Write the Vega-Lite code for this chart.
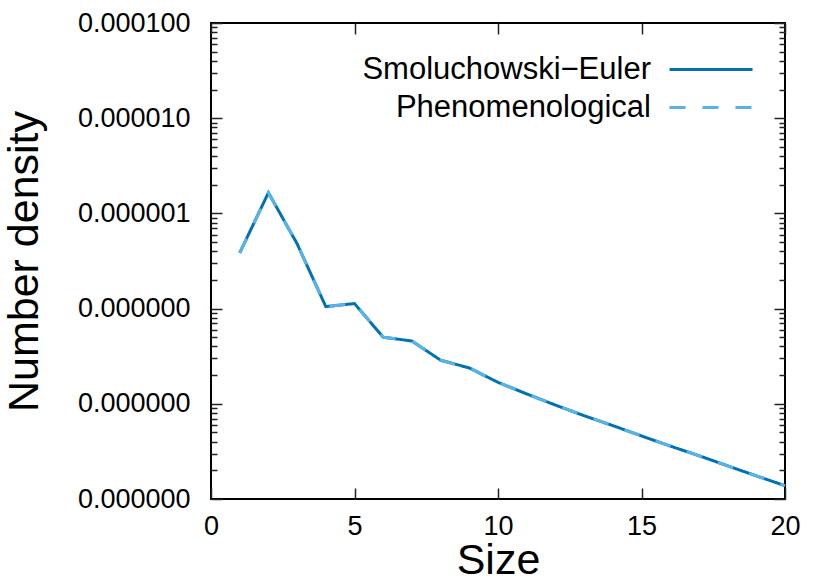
{
  "$schema": "https://vega.github.io/schema/vega-lite/v6.json",
  "autosize": {"type": "none"},
  "padding": {"left": 211, "top": 23, "right": 45, "bottom": 80},
  "width": 574,
  "height": 476,
  "background": "white",
  "config": {
    "view": {"stroke": "black", "strokeWidth": 2},
    "font": "Liberation Sans",
    "axis": {
      "grid": false,
      "domain": false,
      "tickColor": "#222222",
      "tickWidth": 1.5,
      "labelFont": "Liberation Sans",
      "labelFontSize": 27,
      "labelColor": "black",
      "titleFont": "Liberation Sans",
      "titleFontSize": 43,
      "titleFontWeight": "normal",
      "titleColor": "black"
    }
  },
  "data": {
    "values": [
      {"size": 1, "density": 3.84e-7, "model": "Smoluchowski−Euler"},
      {"size": 2, "density": 1.65e-6, "model": "Smoluchowski−Euler"},
      {"size": 3, "density": 4.8e-7, "model": "Smoluchowski−Euler"},
      {"size": 4, "density": 1.05e-7, "model": "Smoluchowski−Euler"},
      {"size": 5, "density": 1.13e-7, "model": "Smoluchowski−Euler"},
      {"size": 6, "density": 5.0e-8, "model": "Smoluchowski−Euler"},
      {"size": 7, "density": 4.57e-8, "model": "Smoluchowski−Euler"},
      {"size": 8, "density": 2.87e-8, "model": "Smoluchowski−Euler"},
      {"size": 9, "density": 2.38e-8, "model": "Smoluchowski−Euler"},
      {"size": 10, "density": 1.68e-8, "model": "Smoluchowski−Euler"},
      {"size": 11, "density": 1.27e-8, "model": "Smoluchowski−Euler"},
      {"size": 12, "density": 9.7e-9, "model": "Smoluchowski−Euler"},
      {"size": 13, "density": 7.5e-9, "model": "Smoluchowski−Euler"},
      {"size": 14, "density": 5.9e-9, "model": "Smoluchowski−Euler"},
      {"size": 15, "density": 4.6e-9, "model": "Smoluchowski−Euler"},
      {"size": 16, "density": 3.6e-9, "model": "Smoluchowski−Euler"},
      {"size": 17, "density": 2.85e-9, "model": "Smoluchowski−Euler"},
      {"size": 18, "density": 2.23e-9, "model": "Smoluchowski−Euler"},
      {"size": 19, "density": 1.75e-9, "model": "Smoluchowski−Euler"},
      {"size": 20, "density": 1.38e-9, "model": "Smoluchowski−Euler"},
      {"size": 1, "density": 3.84e-7, "model": "Phenomenological"},
      {"size": 2, "density": 1.65e-6, "model": "Phenomenological"},
      {"size": 3, "density": 4.8e-7, "model": "Phenomenological"},
      {"size": 4, "density": 1.05e-7, "model": "Phenomenological"},
      {"size": 5, "density": 1.13e-7, "model": "Phenomenological"},
      {"size": 6, "density": 5.0e-8, "model": "Phenomenological"},
      {"size": 7, "density": 4.57e-8, "model": "Phenomenological"},
      {"size": 8, "density": 2.87e-8, "model": "Phenomenological"},
      {"size": 9, "density": 2.38e-8, "model": "Phenomenological"},
      {"size": 10, "density": 1.68e-8, "model": "Phenomenological"},
      {"size": 11, "density": 1.27e-8, "model": "Phenomenological"},
      {"size": 12, "density": 9.7e-9, "model": "Phenomenological"},
      {"size": 13, "density": 7.5e-9, "model": "Phenomenological"},
      {"size": 14, "density": 5.9e-9, "model": "Phenomenological"},
      {"size": 15, "density": 4.6e-9, "model": "Phenomenological"},
      {"size": 16, "density": 3.6e-9, "model": "Phenomenological"},
      {"size": 17, "density": 2.85e-9, "model": "Phenomenological"},
      {"size": 18, "density": 2.23e-9, "model": "Phenomenological"},
      {"size": 19, "density": 1.75e-9, "model": "Phenomenological"},
      {"size": 20, "density": 1.38e-9, "model": "Phenomenological"}
    ]
  },
  "layer": [
    {
      "mark": {"type": "line", "strokeWidth": 3},
      "encoding": {
        "x": {
          "field": "size", "type": "quantitative",
          "scale": {"domain": [0, 20], "nice": false, "zero": false},
          "axis": {"orient": "bottom", "title": "Size", "values": [0, 5, 10, 15, 20], "tickSize": -11, "labelPadding": 25, "titlePadding": 0, "labelFlush": false}
        },
        "y": {
          "field": "density", "type": "quantitative",
          "scale": {"type": "log", "domain": [1e-9, 1e-4], "nice": false},
          "axis": {"orient": "left", "title": "Number density", "values": [1e-9, 1e-8, 1e-7, 1e-6, 1e-5, 1e-4], "format": ".6f", "tickSize": -11, "labelPadding": 32, "titlePadding": 31}
        },
        "color": {
          "field": "model", "type": "nominal",
          "scale": {"domain": ["Smoluchowski−Euler", "Phenomenological"], "range": ["#0072B2", "#56B4E9"]},
          "legend": {
            "title": null, "orient": "none", "legendX": 484.5, "legendY": 31, "padding": 0,
            "labelFont": "Liberation Sans", "labelFontSize": 31, "labelColor": "black",
            "labelAlign": "right", "labelOffset": -75.5, "labelLimit": 600,
            "symbolType": "M-8.3,0H8.3", "symbolSize": 100, "symbolStrokeWidth": 3,
            "rowPadding": 6
          }
        },
        "strokeDash": {
          "field": "model", "type": "nominal",
          "scale": {"domain": ["Smoluchowski−Euler", "Phenomenological"], "range": [[1, 0], [16, 17]]},
          "legend": {
            "title": null, "orient": "none", "legendX": 484.5, "legendY": 31, "padding": 0,
            "labelFont": "Liberation Sans", "labelFontSize": 31, "labelColor": "black",
            "labelAlign": "right", "labelOffset": -75.5, "labelLimit": 600,
            "symbolType": "M-8.3,0H8.3", "symbolSize": 100, "symbolStrokeWidth": 3,
            "rowPadding": 6
          }
        }
      }
    },
    {
      "mark": {"type": "point", "opacity": 0},
      "encoding": {
        "x": {
          "field": "size", "type": "quantitative",
          "scale": {"domain": [0, 20], "nice": false, "zero": false},
          "axis": {"orient": "top", "title": null, "values": [0, 5, 10, 15, 20], "tickSize": -11, "labels": false}
        },
        "y": {
          "field": "density", "type": "quantitative",
          "scale": {"type": "log", "domain": [1e-9, 1e-4], "nice": false},
          "axis": {"orient": "right", "title": null, "values": [1e-9, 1e-8, 1e-7, 1e-6, 1e-5, 1e-4], "tickSize": -11, "labels": false}
        }
      }
    },
    {
      "mark": {"type": "point", "opacity": 0},
      "encoding": {
        "x": {
          "field": "size", "type": "quantitative",
          "scale": {"domain": [0, 20], "nice": false, "zero": false},
          "axis": null
        },
        "y": {
          "field": "density", "type": "quantitative",
          "scale": {"type": "log", "domain": [1e-9, 1e-4], "nice": false},
          "axis": {"orient": "left", "title": null, "values": [2e-9, 3e-9, 4e-9, 5e-9, 6e-9, 7e-9, 8e-9, 9e-9, 2e-8, 3e-8, 4e-8, 5e-8, 6e-8, 7e-8, 8e-8, 9e-8, 2e-7, 3e-7, 4e-7, 5e-7, 6e-7, 7e-7, 8e-7, 9e-7, 2e-6, 3e-6, 4e-6, 5e-6, 6e-6, 7e-6, 8e-6, 9e-6, 2e-5, 3e-5, 4e-5, 5e-5, 6e-5, 7e-5, 8e-5, 9e-5], "tickSize": -6, "labels": false}
        }
      }
    },
    {
      "mark": {"type": "point", "opacity": 0},
      "encoding": {
        "x": {
          "field": "size", "type": "quantitative",
          "scale": {"domain": [0, 20], "nice": false, "zero": false},
          "axis": null
        },
        "y": {
          "field": "density", "type": "quantitative",
          "scale": {"type": "log", "domain": [1e-9, 1e-4], "nice": false},
          "axis": {"orient": "right", "title": null, "values": [2e-9, 3e-9, 4e-9, 5e-9, 6e-9, 7e-9, 8e-9, 9e-9, 2e-8, 3e-8, 4e-8, 5e-8, 6e-8, 7e-8, 8e-8, 9e-8, 2e-7, 3e-7, 4e-7, 5e-7, 6e-7, 7e-7, 8e-7, 9e-7, 2e-6, 3e-6, 4e-6, 5e-6, 6e-6, 7e-6, 8e-6, 9e-6, 2e-5, 3e-5, 4e-5, 5e-5, 6e-5, 7e-5, 8e-5, 9e-5], "tickSize": -6, "labels": false}
        }
      }
    }
  ],
  "resolve": {"axis": {"x": "independent", "y": "independent"}}
}
